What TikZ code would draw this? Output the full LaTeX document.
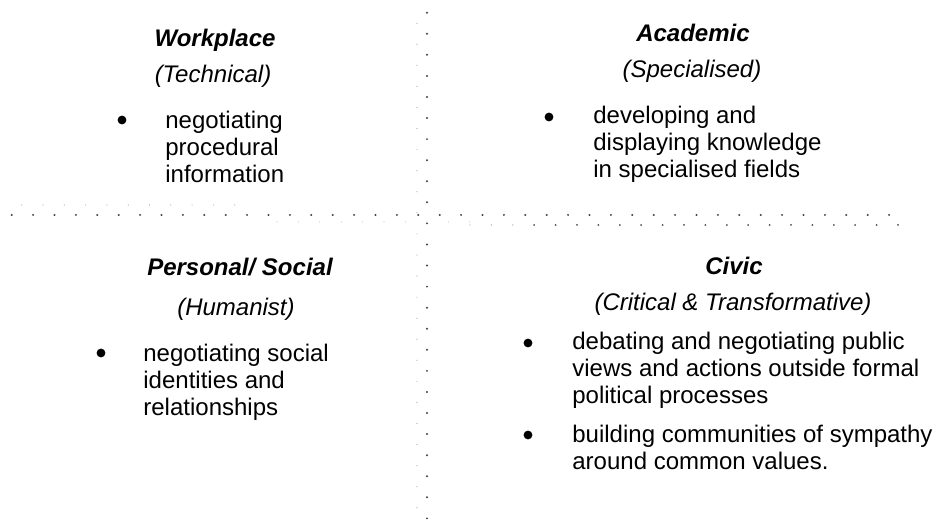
\documentclass[tikz,border=0pt]{standalone}
\usepackage{fontspec}
\setmainfont{Liberation Sans}
\usepackage{tikz}

\tikzset{
  head/.style={font=\fontsize{12}{14}\selectfont\bfseries\itshape, anchor=base, inner sep=0pt},
  sub/.style={font=\fontsize{12}{14}\selectfont\itshape, anchor=base, inner sep=0pt},
  item/.style={font=\fontsize{12}{13.35}\selectfont, align=left, anchor=north west, inner sep=0pt},
  bul/.style={circle, fill=black, inner sep=0pt, minimum size=4.4pt}
}

\begin{document}
\begin{tikzpicture}[x=0.5pt,y=-0.5pt]
        \useasboundingbox (0,0) rectangle (934,529);

        % vertical dotted divider
        \foreach \i in {0,...,24}
            \fill[black!75] (427,12.7+21.07*\i) circle (0.55pt);
        \foreach \i in {0,...,23}
            \fill[black!35] (417,23.2+21.07*\i) circle (0.3pt);

        % horizontal dotted divider
        \foreach \i in {0,...,41}
            \fill[black!75] (11.7+21.4*\i,215) circle (0.55pt);
        \foreach \i in {0,...,10}
            \fill[black!35] (21.7+21.3*\i,205) circle (0.3pt);
        \foreach \i in {0,...,9}
            \fill[black!25] (277+21.4*\i,222) circle (0.3pt);
        \foreach \i in {0,...,2}
            \fill[black!35] (470+21.4*\i,225) circle (0.35pt);
        \foreach \i in {3,...,20}
            \fill[black!70] (470+21.4*\i,225) circle (0.5pt);

        % top left
        \node[head] (work) at (215,47) {Workplace};
        \node[sub] (tech) at (213,83) {(Technical)};
        \node[bul] (workb) at (122,120) {};
        \node[item] (workt) at (165,111) {negotiating\\procedural\\information};

        % top right
        \node[head] (acad) at (693,42) {Academic};
        \node[sub] (spec) at (692,78) {(Specialised)};
        \node[bul] (acadb) at (549,117) {};
        \node[item] (acadt) at (593,106) {developing and\\displaying knowledge\\in specialised fields};

        % bottom left
        \node[head] (pers) at (240,276) {Personal/ Social};
        \node[sub] (human) at (236,316) {(Humanist)};
        \node[bul] (persb) at (101,353) {};
        \node[item] (perst) at (143,344) {negotiating social\\identities and\\relationships};

        % bottom right
        \node[head] (civic) at (734,275) {Civic};
        \node[sub] (crit) at (733,311) {(Critical \& Transformative)};
        \node[bul] (civicba) at (528,343) {};
        \node[item] (civicta) at (572,332) {debating and negotiating public\\views and actions outside formal\\political processes};
        \node[bul] (civicbb) at (528,435) {};
        \node[item] (civictb) at (572,425) {building communities of sympathy\\around common values.};
\end{tikzpicture}
\end{document}
